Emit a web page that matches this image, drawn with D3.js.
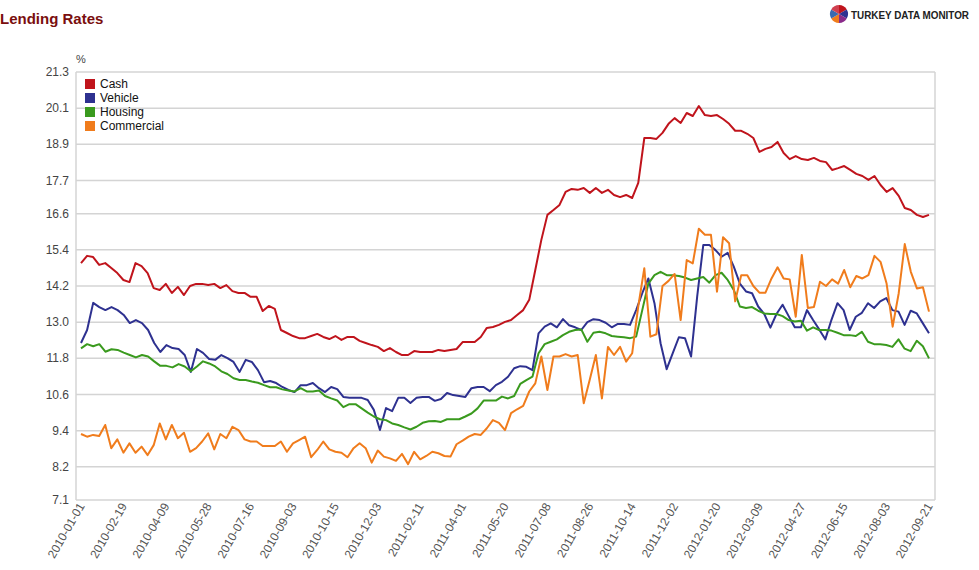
<!DOCTYPE html>
<html><head><meta charset="utf-8">
<script src="https://cdn.jsdelivr.net/npm/d3@7"></script>
<style>body{margin:0;background:#fff;font-family:Arial,"Liberation Sans",sans-serif}</style>
</head><body><svg id="c" width="979" height="570"></svg>
<script>
const tickLabels=["2010-01-01","2010-02-19","2010-04-09","2010-05-28","2010-07-16","2010-09-03","2010-10-15","2010-12-03","2011-02-11","2011-04-01","2011-05-20","2011-07-08","2011-08-26","2011-10-14","2011-12-02","2012-01-20","2012-03-09","2012-04-27","2012-06-15","2012-08-03","2012-09-21"];
const yTicks=[7.1,8.2,9.4,10.6,11.8,13.0,14.2,15.4,16.6,17.7,18.9,20.1,21.3];
const seriesNames=["Cash","Vehicle","Housing","Commercial"];
const cash=[14.96,15.2,15.16,14.9,14.96,14.8,14.63,14.4,14.33,14.96,14.86,14.63,14.13,14.07,14.27,13.97,14.17,13.9,14.2,14.27,14.27,14.23,14.27,14.13,14.23,14.03,13.97,13.97,13.84,13.84,13.37,13.54,13.44,12.74,12.64,12.54,12.47,12.47,12.54,12.61,12.51,12.44,12.54,12.41,12.51,12.51,12.38,12.31,12.24,12.18,12.04,12.14,12.01,11.91,11.91,12.04,12.01,12.01,12.01,12.08,12.04,12.08,12.11,12.34,12.34,12.34,12.51,12.81,12.84,12.91,13.01,13.07,13.24,13.4,13.74,14.73,15.73,16.56,16.72,16.89,17.32,17.42,17.39,17.45,17.29,17.45,17.29,17.39,17.22,17.15,17.22,17.12,17.62,19.11,19.11,19.08,19.28,19.58,19.77,19.61,19.94,19.84,20.17,19.87,19.84,19.87,19.74,19.58,19.35,19.35,19.25,19.11,18.65,18.75,18.81,18.98,18.61,18.41,18.51,18.41,18.38,18.45,18.35,18.31,18.05,18.11,18.18,18.05,17.92,17.85,17.72,17.85,17.55,17.32,17.45,17.19,16.79,16.72,16.56,16.49,16.56];
const vehicle=[12.31,12.74,13.64,13.5,13.4,13.5,13.4,13.24,12.97,13.07,12.97,12.74,12.31,12.01,12.24,12.14,12.11,11.91,11.35,12.11,11.98,11.78,11.75,11.91,11.81,11.68,11.35,11.75,11.68,11.41,11.01,11.05,10.98,10.85,10.75,10.68,10.91,10.91,10.98,10.81,10.68,10.85,10.78,10.52,10.49,10.49,10.49,10.42,10.09,9.42,10.15,10.05,10.49,10.49,10.32,10.49,10.52,10.52,10.39,10.45,10.65,10.58,10.55,10.52,10.81,10.85,10.85,10.71,10.91,11.02,11.19,11.47,11.54,11.52,11.41,12.63,12.85,12.96,12.83,13.1,12.9,12.83,12.74,13.0,13.1,13.07,12.98,12.83,12.94,12.94,12.91,13.4,13.96,14.45,13.63,12.3,11.44,11.97,12.5,12.47,11.86,13.85,15.56,15.56,15.39,15.17,15.3,14.84,14.28,14.02,13.96,13.52,13.27,12.82,13.27,13.58,13.2,12.83,12.83,13.4,13.07,12.76,12.43,13.07,13.63,13.4,12.74,13.18,13.31,13.63,13.47,13.69,13.8,13.4,13.35,12.91,13.38,13.29,12.96,12.63];
const housing=[12.13,12.27,12.2,12.27,12.02,12.1,12.08,11.99,11.91,11.83,11.91,11.86,11.7,11.55,11.55,11.5,11.61,11.53,11.37,11.53,11.7,11.63,11.53,11.37,11.28,11.14,11.08,11.08,11.03,10.99,10.91,10.84,10.84,10.77,10.73,10.7,10.81,10.7,10.7,10.73,10.55,10.47,10.4,10.18,10.28,10.28,10.14,10.0,9.87,9.78,9.75,9.64,9.59,9.51,9.44,9.53,9.66,9.71,9.72,9.69,9.78,9.78,9.78,9.87,9.97,10.14,10.4,10.4,10.4,10.53,10.47,10.55,10.95,11.08,11.19,11.97,12.27,12.35,12.43,12.57,12.68,12.74,12.76,12.35,12.65,12.68,12.63,12.54,12.52,12.5,12.47,12.52,13.4,14.28,14.56,14.67,14.56,14.56,14.53,14.48,14.4,14.45,14.5,14.31,14.56,14.64,14.4,14.07,13.52,13.47,13.5,13.38,13.29,13.27,13.27,13.2,13.07,13.02,13.05,12.72,12.83,12.74,12.74,12.72,12.65,12.57,12.57,12.54,12.68,12.35,12.27,12.27,12.24,12.18,12.43,12.12,12.04,12.38,12.2,11.8];
const commercial=[9.29,9.2,9.26,9.22,9.59,8.82,9.11,8.67,8.98,8.67,8.87,8.59,8.92,9.64,9.11,9.59,9.15,9.33,8.7,8.82,9.04,9.31,8.78,9.29,9.15,9.53,9.42,9.11,9.04,9.04,8.89,8.89,8.89,9.04,8.7,8.98,9.09,9.2,8.52,8.76,9.04,8.78,8.7,8.67,8.52,8.82,8.98,8.82,8.34,8.74,8.54,8.48,8.4,8.63,8.29,8.7,8.45,8.56,8.7,8.65,8.56,8.54,8.95,9.07,9.2,9.29,9.26,9.48,9.75,9.66,9.42,9.98,10.11,10.22,10.7,10.97,11.86,10.75,11.86,11.86,11.94,11.86,11.91,10.31,11.1,11.91,10.47,12.18,11.91,12.18,11.69,11.97,13.52,14.79,12.52,12.6,14.2,14.37,14.6,13.07,15.06,14.95,16.1,15.9,15.9,14.01,15.82,15.62,13.69,14.56,14.56,14.2,13.98,13.98,14.45,14.82,14.45,14.42,13.18,15.23,13.47,13.5,14.34,14.2,14.42,14.28,14.73,14.16,14.53,14.45,14.56,15.2,15.0,14.28,12.85,13.96,15.59,14.67,14.12,14.16,13.35];
const colors=["#c0141c","#2e3190","#3a9a1e","#f07c1c"];
const all=[cash,vehicle,housing,commercial];

const svg=d3.select("#c");
const L=76,R=935,T=72,B=500,x0=81,x1=929;
const y=d3.scaleLinear().domain([7.1,21.3]).range([B,T]);
svg.append("text").attr("x",0).attr("y",24).attr("fill","#7a0e0e").attr("font-size",15).attr("font-weight","bold").text("Lending Rates");
svg.append("text").attr("x",76).attr("y",63).attr("fill","#444").attr("font-size",11).text("%");
svg.selectAll(".g").data(yTicks).enter().append("line").attr("x1",L).attr("x2",R).attr("y1",d=>y(d)).attr("y2",d=>y(d)).attr("stroke","#d4d4d4").attr("stroke-width",1.5);
svg.append("line").attr("x1",L).attr("x2",L).attr("y1",T).attr("y2",B).attr("stroke","#d4d4d4").attr("stroke-width",1.5);
svg.append("line").attr("x1",R).attr("x2",R).attr("y1",T).attr("y2",B).attr("stroke","#d4d4d4").attr("stroke-width",1.5);
svg.selectAll(".yl").data(yTicks).enter().append("text").attr("x",69).attr("y",d=>y(d)+4).attr("text-anchor","end").attr("font-size",12).attr("fill","#444").text(d=>d.toFixed(1));
all.forEach((s,i)=>{
  const x=d3.scaleLinear().domain([0,s.length-1]).range([x0,x1]);
  svg.append("path").datum(s).attr("fill","none").attr("stroke",colors[i]).attr("stroke-width",2).attr("stroke-linejoin","round")
    .attr("d",d3.line().x((d,j)=>x(j)).y(d=>y(d)));
});
const xt=d3.scaleLinear().domain([0,tickLabels.length-1]).range([x0,x1]);
tickLabels.forEach((t,i)=>{
  svg.append("text").attr("transform",`translate(${xt(i)+4},${B+6}) rotate(-60)`).attr("text-anchor","end").attr("font-size",12).attr("fill","#555").text(t);
});
const lg=svg.append("g");
seriesNames.forEach((n,i)=>{
  lg.append("rect").attr("x",85).attr("y",79+i*14).attr("width",10).attr("height",10).attr("fill",colors[i]);
  lg.append("text").attr("x",100).attr("y",88+i*14).attr("font-size",12).attr("fill","#111").text(n);
});
const pie=d3.pie().sort(null)([1,1,1,1,1,1]);
const arc=d3.arc().innerRadius(0).outerRadius(9);
const pc=["#c0141c","#2e3190","#8a2a8a","#f07c1c","#3a6ab0","#d04050"];
svg.append("g").attr("transform","translate(839,14)").selectAll("path").data(pie).enter().append("path").attr("d",arc).attr("fill",(d,i)=>pc[i]);
svg.append("text").attr("x",851).attr("y",19).attr("font-size",11).attr("font-weight","bold").attr("fill","#222")
  .attr("textLength",118).attr("lengthAdjust","spacingAndGlyphs").text("TURKEY DATA MONITOR");
</script></body></html>
